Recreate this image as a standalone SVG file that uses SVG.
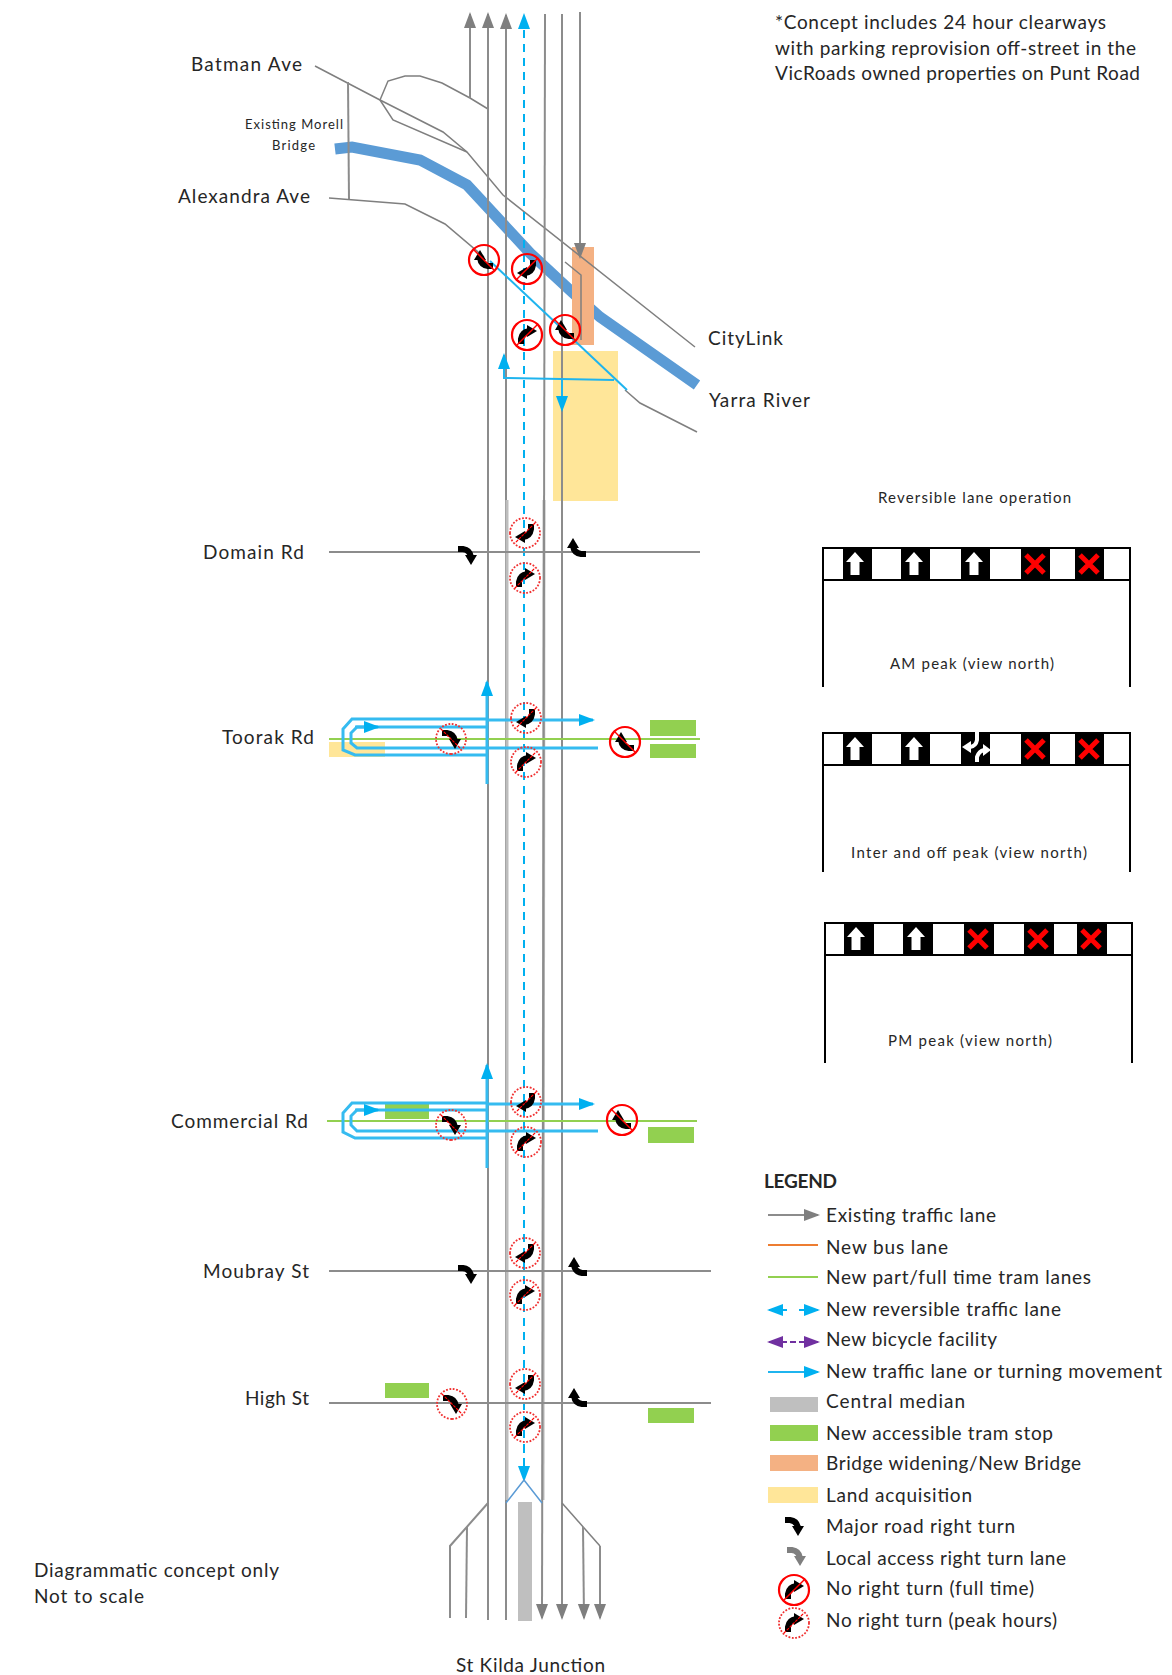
<svg xmlns="http://www.w3.org/2000/svg" width="1172" height="1675" viewBox="0 0 1172 1675">
<style>
text{font-family:"Lato","Open Sans","Liberation Sans",sans-serif;fill:#262626;font-size:19px}
.sm{font-size:15px}.xs{font-size:13px}.b{font-weight:700}
.g,.g2,.c,.c2,.t{fill:none}
.g{stroke:#7f7f7f;stroke-width:1.5}
.g2{stroke:#8c8c8c;stroke-width:2}
.gl{stroke:#bdbdbd;stroke-width:3;fill:none}
.c{stroke:#1fb4ee;stroke-width:2}
.c3{stroke:#35bbf0;stroke-width:3;fill:none}
.c2{stroke:#00b0f0;stroke-width:2;stroke-dasharray:8 6;fill:none}
.t{stroke:#92d050;stroke-width:2}
.p{stroke:#000;stroke-width:2;fill:none}
.stop{fill:#92d050}.yel{fill:#ffe699}.org{fill:#f4b183}
.blk{fill:#000}.x{stroke:#f00;stroke-width:5;fill:none}
</style>
<defs>
<marker id="ag" markerUnits="userSpaceOnUse" markerWidth="16" markerHeight="16" refX="14" refY="8" orient="auto"><path d="M0 2L16 8L0 14Z" fill="#7f7f7f"/></marker>
<marker id="ac" markerUnits="userSpaceOnUse" markerWidth="16" markerHeight="16" refX="14" refY="8" orient="auto"><path d="M0 2L16 8L0 14Z" fill="#00b0f0"/></marker>
<marker id="ap" markerUnits="userSpaceOnUse" markerWidth="16" markerHeight="16" refX="14" refY="8" orient="auto"><path d="M0 2L16 8L0 14Z" fill="#7030a0"/></marker>
<g id="turn"><path d="M-6 9L-6 4Q-5 -3 2 -4" fill="none" stroke="#000" stroke-width="6"/><path d="M0 -10L10 -4L0 2Z" fill="#000"/></g>
<g id="turng"><path d="M-6 9L-6 4Q-5 -3 2 -4" fill="none" stroke="#7f7f7f" stroke-width="6"/><path d="M0 -10L10 -4L0 2Z" fill="#7f7f7f"/></g>
<g id="nof"><use href="#turn"/><path d="M-10 10L10 -10" stroke="#f00" stroke-width="1.5"/><circle r="15" fill="none" stroke="#f00" stroke-width="2.2"/></g>
<g id="nop"><use href="#turn"/><path d="M-10 10L10 -10" stroke="#f00" stroke-width="1.2" stroke-dasharray="3 1"/><circle r="15" fill="none" stroke="#f03030" stroke-width="1.8" stroke-dasharray="1.8 1.6"/></g>
<path id="up" d="M0 -12L9 -2L4.500 -2L4.500 11L-4.500 11L-4.500 -2L-9 -2Z" fill="#fff"/>
<path id="cross" d="M-9 -9L9 9M9 -9L-9 9" class="x"/>
</defs>
<rect width="1172" height="1675" fill="#fff"/>

<g id="areas">
<polyline points="335,149 352,147 420,160 467,185 530,253 573,293 600,317 697,385" fill="none" stroke="#5b9bd5" stroke-width="11"/>
<rect class="yel" x="553" y="351" width="65" height="150"/>
<rect class="org" x="572" y="247" width="22" height="98"/>
<rect class="yel" x="329" y="742" width="56" height="15"/>
<rect x="518" y="1502" width="14" height="119" fill="#bfbfbf"/>
<rect class="stop" x="650" y="720" width="46" height="16"/>
<rect class="stop" x="650" y="744" width="46" height="14"/>
<rect class="stop" x="385" y="1103" width="44" height="16"/>
<rect class="stop" x="648" y="1127" width="46" height="16"/>
<rect class="stop" x="385" y="1383" width="44" height="15"/>
<rect class="stop" x="648" y="1408" width="46" height="15"/>
</g>

<g id="connectors">
<polyline class="g" points="315,66 380,100 443,132 467,152 503,195 695,347"/>
<line class="g2" x1="348" y1="82" x2="349" y2="200"/>
<polyline class="g" points="380,100 388,81 405,76 420,76 442,83 470,98 488,109"/>
<polyline class="g" points="380,100 393,120 467,152"/>
<polyline class="g" points="329,198 405,204 445,224 484,257"/>
<polyline class="g" points="625,390 640,403 697,432"/>
<polyline class="g" points="565,262 581,275 581,340"/>
<line class="g2" x1="470" y1="98" x2="470" y2="14" marker-end="url(#ag)"/>
<line class="g2" x1="488" y1="1620" x2="488" y2="14" marker-end="url(#ag)"/>
<line class="g2" x1="506" y1="1620" x2="506" y2="15" marker-end="url(#ag)"/>
<line class="gl" x1="507" y1="500" x2="507" y2="1500"/>
<line class="gl" x1="544" y1="500" x2="543" y2="1500"/>
<line class="g2" x1="545" y1="14" x2="542" y2="1618" marker-end="url(#ag)"/>
<line class="g2" x1="562" y1="14" x2="562" y2="1618" marker-end="url(#ag)"/>
<line class="g2" x1="580" y1="12" x2="580" y2="257" marker-end="url(#ag)"/>
<polyline class="g2" points="488,1503 450,1546 450,1618"/>
<line class="g2" x1="467" y1="1527" x2="466" y2="1618"/>
<polyline class="g" points="562,1503 600,1546"/>
<line class="g2" x1="583" y1="1527" x2="584" y2="1618" marker-end="url(#ag)"/>
<line class="g2" x1="600" y1="1546" x2="600" y2="1618" marker-end="url(#ag)"/>
<line class="c2" x1="524" y1="1480" x2="524" y2="15" marker-end="url(#ac)"/>
<line class="c2" x1="524" y1="1445" x2="524" y2="1480" marker-end="url(#ac)"/>
<polyline points="506,1503 524,1480 542,1503" fill="none" stroke="#5b9bd5" stroke-width="1.500"/>
<line class="c" x1="490" y1="261" x2="627" y2="390"/>
<polyline class="c" points="614,380 504,378 504,355" marker-end="url(#ac)"/>
<line class="c" x1="562" y1="380" x2="562" y2="410" marker-end="url(#ac)"/>
<g id="road-domain"><line class="g2" x1="329" y1="552" x2="700" y2="552"/></g>
<g id="road-moubray"><line class="g2" x1="329" y1="1271" x2="711" y2="1271"/></g>
<g id="road-high"><line class="g2" x1="329" y1="1403" x2="711" y2="1403"/></g>
<line class="t" x1="329" y1="739" x2="700" y2="739"/>
<line class="t" x1="327" y1="1121" x2="697" y2="1121"/>
<g id="toorak-movements">
<polyline class="c3" points="487,719 352,719 343,729 343,750 355,755 487,755"/>
<polyline class="c3" points="487,727 357,727 351,733 351,743 357,748 598,748"/>
<line class="c3" x1="355" y1="727" x2="378" y2="727" marker-end="url(#ac)"/>
<line class="c3" x1="487" y1="720" x2="593" y2="720" marker-end="url(#ac)"/>
<line class="c3" x1="487" y1="784" x2="487" y2="682" marker-end="url(#ac)"/>
</g>
<g id="commercial-movements">
<polyline class="c3" points="487,1103 352,1103 343,1113 343,1132 355,1138 487,1138"/>
<polyline class="c3" points="487,1110 357,1110 351,1116 351,1125 357,1131 598,1131"/>
<line class="c3" x1="355" y1="1110" x2="378" y2="1110" marker-end="url(#ac)"/>
<line class="c3" x1="487" y1="1104" x2="593" y2="1104" marker-end="url(#ac)"/>
<line class="c3" x1="487" y1="1168" x2="487" y2="1065" marker-end="url(#ac)"/>
</g>
</g>

<g id="turn-signs">
<use href="#nof" transform="translate(484 260) rotate(-90)"/>
<use href="#nof" transform="translate(527 269) rotate(180)"/>
<use href="#nof" transform="translate(527 335)"/>
<use href="#nof" transform="translate(565 330) rotate(-90)"/>
<use href="#nop" transform="translate(525 533) rotate(180)"/>
<use href="#nop" transform="translate(525 578)"/>
<use href="#turn" transform="translate(467 555) rotate(90)"/>
<use href="#turn" transform="translate(577 548) rotate(-90)"/>
<use href="#nop" transform="translate(526 718) rotate(180)"/>
<use href="#nop" transform="translate(526 762)"/>
<use href="#nop" transform="translate(451 739) rotate(90)"/>
<use href="#nof" transform="translate(625 742) rotate(-90)"/>
<use href="#nop" transform="translate(526 1102) rotate(180)"/>
<use href="#nop" transform="translate(526 1142)"/>
<use href="#nop" transform="translate(451 1125) rotate(90)"/>
<use href="#nof" transform="translate(622 1120) rotate(-90)"/>
<use href="#nop" transform="translate(525 1253) rotate(180)"/>
<use href="#nop" transform="translate(525 1295)"/>
<use href="#turn" transform="translate(467 1274) rotate(90)"/>
<use href="#turn" transform="translate(578 1267) rotate(-90)"/>
<use href="#nop" transform="translate(525 1384) rotate(180)"/>
<use href="#nop" transform="translate(525 1427)"/>
<use href="#nop" transform="translate(452 1404) rotate(90)"/>
<use href="#turn" transform="translate(578 1398) rotate(-90)"/>
</g>

<g id="labels">
<text x="775" y="29" textLength="331">*Concept includes 24 hour clearways</text>
<text x="775" y="55" textLength="361">with parking reprovision off-street in the</text>
<text x="775" y="80" textLength="365">VicRoads owned properties on Punt Road</text>
<text x="191" y="71" textLength="111">Batman Ave</text>
<text class="xs" x="245" y="129" textLength="98">Existing Morell</text>
<text class="xs" x="272" y="150" textLength="43">Bridge</text>
<text x="178" y="203" textLength="132">Alexandra Ave</text>
<text x="708" y="345" textLength="75">CityLink</text>
<text x="709" y="407" textLength="101">Yarra River</text>
<text x="203" y="559" textLength="101">Domain Rd</text>
<text x="222" y="744" textLength="92">Toorak Rd</text>
<text x="171" y="1128" textLength="137">Commercial Rd</text>
<text x="203" y="1278" textLength="106">Moubray St</text>
<text x="245" y="1405" textLength="64">High St</text>
<text x="34" y="1577" textLength="245">Diagrammatic concept only</text>
<text x="34" y="1603" textLength="110">Not to scale</text>
<text x="456" y="1672" textLength="149">St Kilda Junction</text>
</g>

<g id="panel-am">
<text class="sm" x="878" y="503" textLength="193">Reversible lane operation</text>
<path class="p" d="M823 687V548H1130V687M823 580H1130"/>
<rect class="blk" x="843" y="548" width="29" height="32"/><rect class="blk" x="901" y="548" width="29" height="32"/><rect class="blk" x="961" y="548" width="29" height="32"/><rect class="blk" x="1021" y="548" width="29" height="32"/><rect class="blk" x="1075" y="548" width="29" height="32"/>
<use href="#up" x="855" y="564"/><use href="#up" x="914" y="564"/><use href="#up" x="974" y="564"/><use href="#cross" x="1035" y="564"/><use href="#cross" x="1089" y="564"/>
<text class="sm" x="890" y="669" textLength="164">AM peak (view north)</text>
</g>
<g id="panel-inter">
<path class="p" d="M823 872V733H1130V872M823 765H1130"/>
<rect class="blk" x="843" y="733" width="29" height="32"/><rect class="blk" x="901" y="733" width="29" height="32"/><rect class="blk" x="961" y="733" width="29" height="32"/><rect class="blk" x="1021" y="733" width="29" height="32"/><rect class="blk" x="1075" y="733" width="29" height="32"/>
<use href="#up" x="855" y="749"/><use href="#up" x="914" y="749"/>
<path d="M977 732L977 740Q976 746 970 747" fill="none" stroke="#fff" stroke-width="4"/><path d="M971 741L962 747L971 753Z" fill="#fff"/>
<path d="M977 762L977 757Q979 751 984 750" fill="none" stroke="#fff" stroke-width="4"/><path d="M983 744L991 750L983 756Z" fill="#fff"/>
<use href="#cross" x="1035" y="749"/><use href="#cross" x="1089" y="749"/>
<text class="sm" x="851" y="858" textLength="236">Inter and off peak (view north)</text>
</g>
<g id="panel-pm">
<path class="p" d="M825 1063V923H1132V1063M825 955H1132"/>
<rect class="blk" x="844" y="923" width="30" height="32"/><rect class="blk" x="903" y="923" width="30" height="32"/><rect class="blk" x="964" y="923" width="30" height="32"/><rect class="blk" x="1024" y="923" width="30" height="32"/><rect class="blk" x="1077" y="923" width="30" height="32"/>
<use href="#up" x="856" y="939"/><use href="#up" x="916" y="939"/><use href="#cross" x="978" y="939"/><use href="#cross" x="1038" y="939"/><use href="#cross" x="1091" y="939"/>
<text class="sm" x="888" y="1046" textLength="164">PM peak (view north)</text>
</g>

<g id="legend">
<text class="b" x="764" y="1188" textLength="73">LEGEND</text>
<line class="g2" x1="768" y1="1215" x2="818" y2="1215" marker-end="url(#ag)"/>
<line x1="768" y1="1245" x2="818" y2="1245" stroke="#ed7d31" stroke-width="2"/>
<line class="t" x1="768" y1="1277" x2="818" y2="1277"/>
<line x1="787" y1="1310" x2="769" y2="1310" stroke="#00b0f0" stroke-width="2" marker-end="url(#ac)"/>
<line x1="799" y1="1310" x2="818" y2="1310" stroke="#00b0f0" stroke-width="2" marker-end="url(#ac)"/>
<line x1="787" y1="1342" x2="769" y2="1342" stroke="#7030a0" stroke-width="2" marker-end="url(#ap)"/>
<line x1="790" y1="1342" x2="796" y2="1342" stroke="#7030a0" stroke-width="2"/>
<line x1="799" y1="1342" x2="818" y2="1342" stroke="#7030a0" stroke-width="2" marker-end="url(#ap)"/>
<line class="c" x1="768" y1="1372" x2="818" y2="1372" marker-end="url(#ac)"/>
<rect x="770" y="1397" width="48" height="15" fill="#bfbfbf"/>
<rect class="stop" x="770" y="1425" width="48" height="16"/>
<rect class="org" x="770" y="1455" width="48" height="16"/>
<rect class="yel" x="768" y="1487" width="50" height="16"/>
<use href="#turn" transform="translate(794 1526) rotate(90)"/>
<use href="#turng" transform="translate(796 1556) rotate(90)"/>
<use href="#nof" transform="translate(794 1590)"/>
<use href="#nop" transform="translate(794 1623)"/>
<text x="826" y="1222" textLength="170">Existing traffic lane</text>
<text x="826" y="1254" textLength="122">New bus lane</text>
<text x="826" y="1284" textLength="265">New part/full time tram lanes</text>
<text x="826" y="1316" textLength="235">New reversible traffic lane</text>
<text x="826" y="1346" textLength="171">New bicycle facility</text>
<text x="826" y="1378" textLength="336">New traffic lane or turning movement</text>
<text x="826" y="1408" textLength="139">Central median</text>
<text x="826" y="1440" textLength="227">New accessible tram stop</text>
<text x="826" y="1470" textLength="255">Bridge widening/New Bridge</text>
<text x="826" y="1502" textLength="146">Land acquisition</text>
<text x="826" y="1533" textLength="189">Major road right turn</text>
<text x="826" y="1565" textLength="240">Local access right turn lane</text>
<text x="826" y="1595" textLength="208">No right turn (full time)</text>
<text x="826" y="1627" textLength="231">No right turn (peak hours)</text>
</g>
</svg>
